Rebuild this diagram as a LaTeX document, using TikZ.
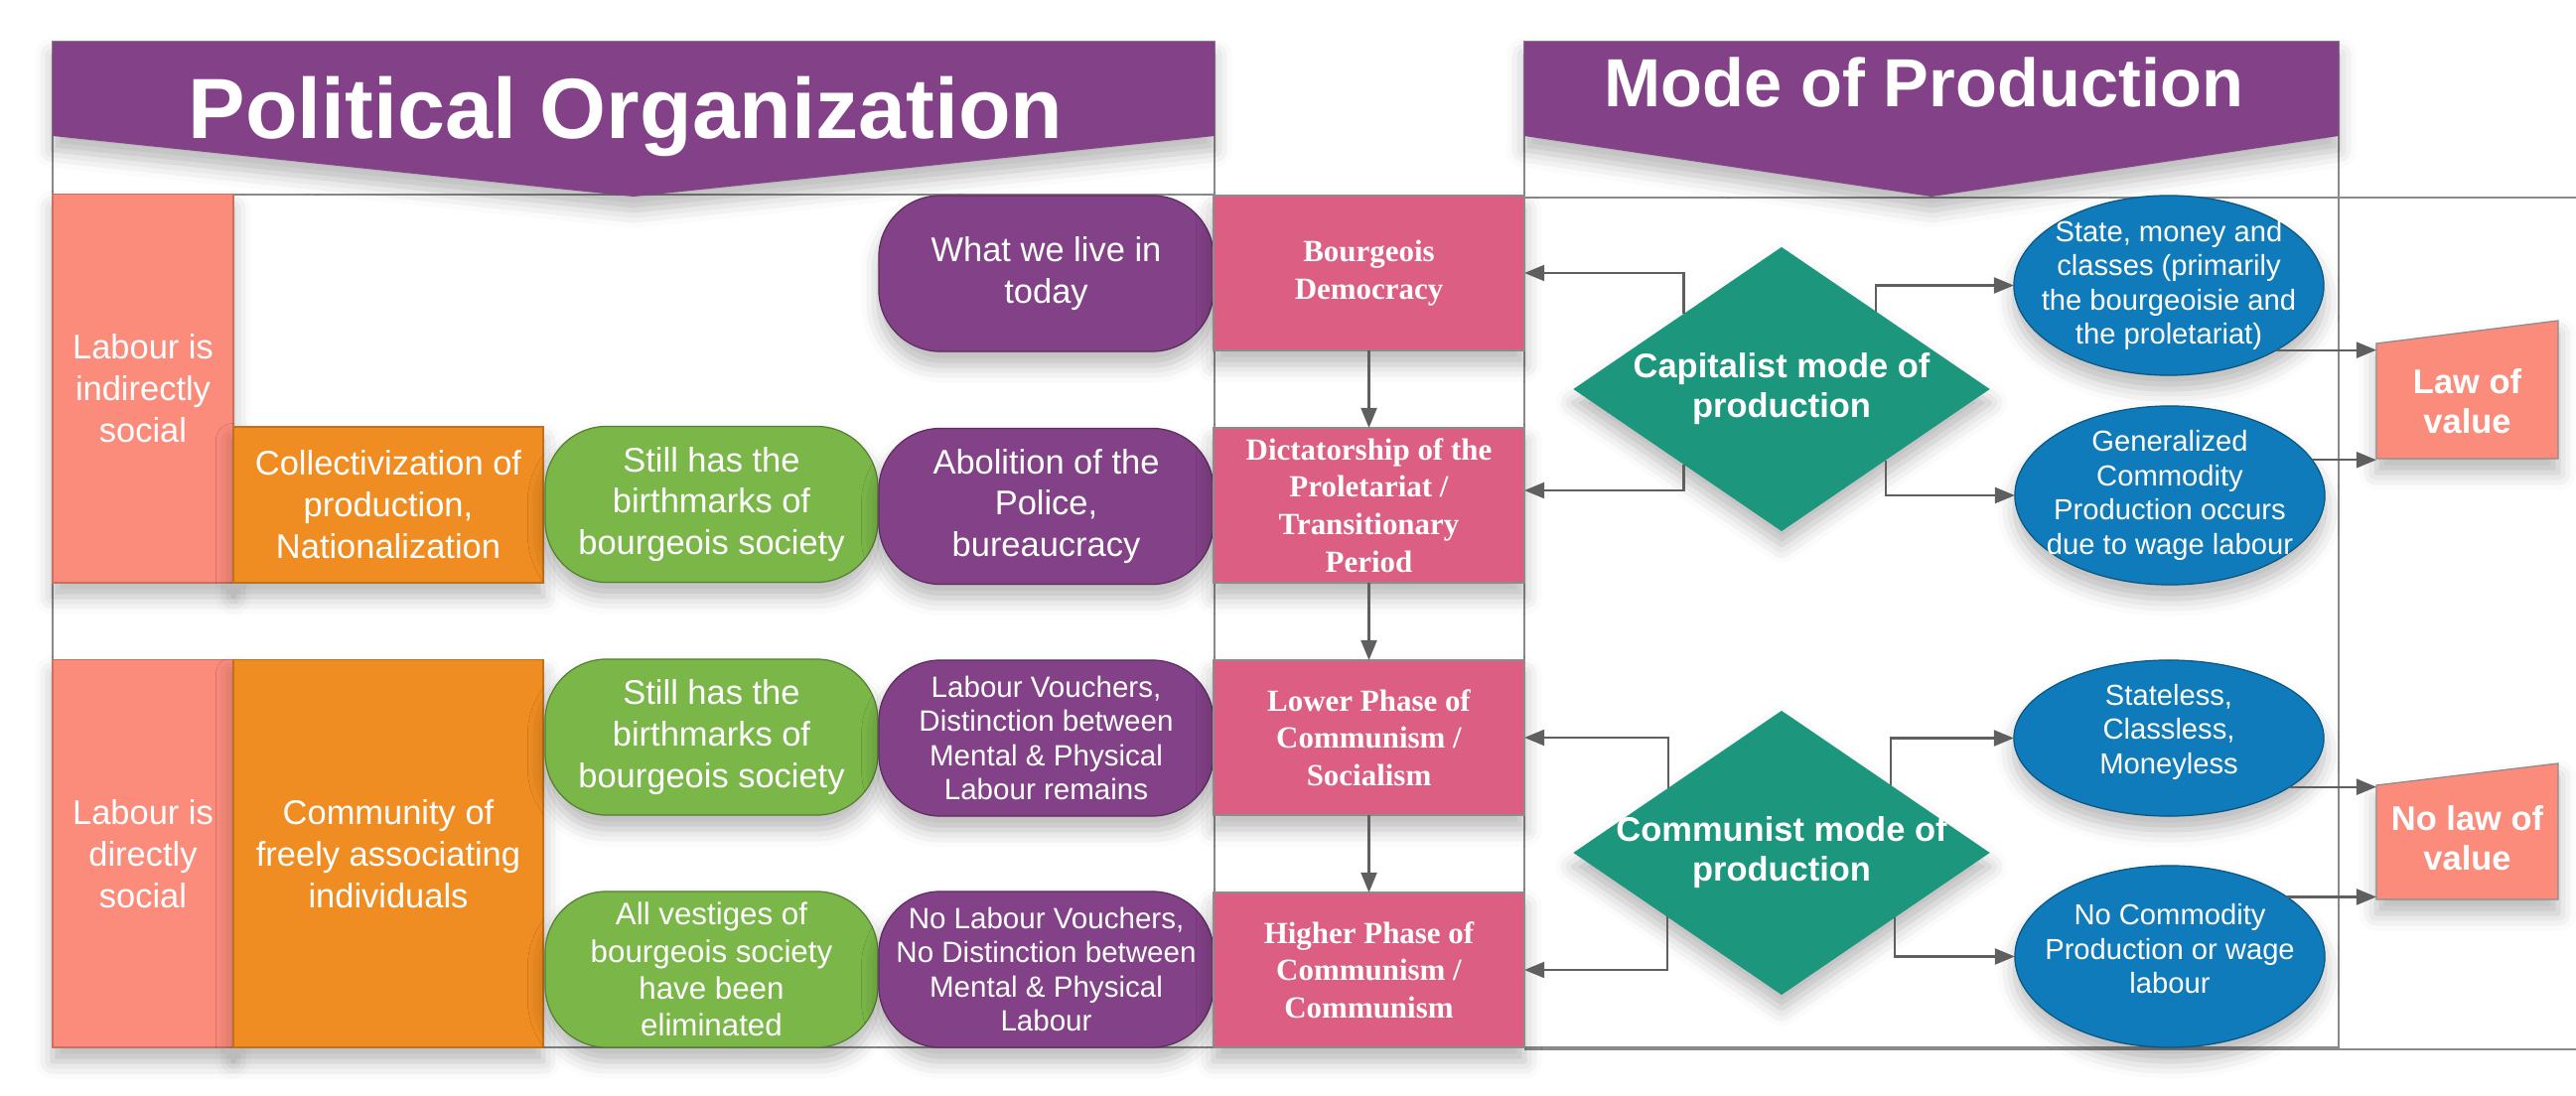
\documentclass[tikz,border=0pt]{standalone}
\usepackage{fontspec}
\setmainfont{Liberation Sans}
\newfontfamily\stageserif{Liberation Serif}
\usepackage{tikz}
\usetikzlibrary{arrows.meta, calc, shapes.geometric, shadows.blur}
\usepackage{xcolor}

\definecolor{hdrpurple}{HTML}{834187}
\definecolor{labourcoral}{HTML}{FB8C7C}
\definecolor{prodorange}{HTML}{EF8D22}
\definecolor{markgreen}{HTML}{7AB648}
\definecolor{stagepink}{HTML}{DC5E82}
\definecolor{modeteal}{HTML}{1C967C}
\definecolor{relblue}{HTML}{0F7BBA}
\definecolor{linkgray}{HTML}{5F5F5F}
\definecolor{framegray}{HTML}{8A8A8A}

\begin{document}
\begin{tikzpicture}[
    x=0.01cm,y=-0.01cm,
    >={Triangle[length=0.2cm,width=0.16cm]},
    font=\fontsize{9.8}{11.9}\selectfont,
    laneframe/.style={draw=framegray,line width=0.55pt},
    softshadow/.style={blur shadow={shadow xshift=0pt,shadow yshift=-4pt,shadow blur radius=5pt,shadow opacity=28}},
    banner/.style={fill=hdrpurple,softshadow},
    headtext/.style={text=white,inner sep=0pt,font=\bfseries\fontsize{#1}{#1}\selectfont},
    cell/.style={rectangle,inner sep=0pt,outer sep=0pt,align=center,text=white,line width=0.35pt,softshadow},
    labour/.style={cell,fill=labourcoral,draw=labourcoral!80!black,minimum width=1.82cm},
    production/.style={cell,fill=prodorange,draw=prodorange!80!black,minimum width=3.12cm},
    birthmark/.style={cell,fill=markgreen,draw=markgreen!70!black,rounded corners=0.62cm,minimum width=3.35cm,minimum height=1.57cm},
    policy/.style={cell,fill=hdrpurple,draw=hdrpurple!70!black,rounded corners=0.62cm,minimum width=3.37cm,minimum height=1.57cm},
    stage/.style={cell,fill=stagepink,draw=black!45,minimum width=3.13cm,minimum height=1.56cm,
        font=\stageserif\bfseries\fontsize{8.8}{10.7}\selectfont},
    modeshape/.style={diamond,fill=modeteal,inner sep=0pt,outer sep=0pt,minimum width=4.19cm,minimum height=2.86cm,softshadow},
    relation/.style={ellipse,fill=relblue,draw=relblue!70!black,line width=0.35pt,inner sep=0pt,outer sep=0pt,minimum width=3.12cm,softshadow},
    boldtext/.style={text=white,align=center,inner sep=0pt,font=\bfseries\fontsize{9.8}{11.4}\selectfont},
    reltext/.style={text=white,align=center,inner sep=0pt,font=\fontsize{8.3}{9.8}\selectfont},
    smalltext/.style={font=\fontsize{8.4}{9.8}\selectfont},
    valuebox/.style={rectangle,inner sep=0pt,outer sep=0pt,minimum width=1.83cm},
    link/.style={draw=linkgray,line width=0.6pt,->}
]
\useasboundingbox (0,0) rectangle (2594,1104);

% Swimlane frames.
\draw[laneframe] (53,42) rectangle (1223,1055);
\draw[laneframe] (53,196) -- (1223,196);
\draw[laneframe] (1535,42) rectangle (2355,1055);
\draw[laneframe] (1535,199) -- (2594,199);
\draw[laneframe] (1535,1057) -- (2594,1057);

% Lane headers.
\fill[banner] (53,42) -- (1223,42) -- (1223,137) -- (638,198) -- (53,137) -- cycle;
\node[headtext=24.5,anchor=base] (politicsHead) at (630,140) {Political Organization};
\fill[banner] (1535,42) -- (2355,42) -- (2355,137) -- (1945,198) -- (1535,137) -- cycle;
\node[headtext=19.5,anchor=base] (modeHead) at (1937,108) {Mode of Production};

% Political organization.
\node[labour,minimum height=3.91cm] (indirect) at (144,391.5) {Labour is\\indirectly\\social};
\node[production,minimum height=1.57cm] (collect) at (391,508.5) {Collectivization of\\production,\\Nationalization};
\node[birthmark] (marksA) at (716.5,508) {Still has the\\birthmarks of\\bourgeois society};
\node[policy] (police) at (1053.5,510) {Abolition of the\\Police,\\bureaucracy};
\node[policy] (today) at (1053.5,275.5) {What we live in\\today};

\node[labour,minimum height=3.9cm] (direct) at (144,860) {Labour is\\directly\\social};
\node[production,minimum height=3.9cm] (community) at (391,860) {Community of\\freely associating\\individuals};
\node[birthmark] (marksB) at (716.5,742.5) {Still has the\\birthmarks of\\bourgeois society};
\node[policy,smalltext] (vouchers) at (1053.5,743.5) {Labour Vouchers,\\Distinction between\\Mental \& Physical\\Labour remains};
\node[birthmark,font=\fontsize{8.9}{10.6}\selectfont] (vestiges) at (716.5,976.5) {All vestiges of\\bourgeois society\\have been\\eliminated};
\node[policy,smalltext] (novouchers) at (1053.5,976.5) {No Labour Vouchers,\\No Distinction between\\Mental \& Physical\\Labour};

% Stages between the two lanes.
\node[stage] (bourgeois) at (1378.5,275) {Bourgeois\\Democracy};
\node[stage] (dictatorship) at (1378.5,509) {Dictatorship of the\\Proletariat /\\Transitionary\\Period};
\node[stage] (lower) at (1378.5,743) {Lower Phase of\\Communism /\\Socialism};
\node[stage] (higher) at (1378.5,977) {Higher Phase of\\Communism /\\Communism};

% Modes of production and what goes with them.
\node[modeshape] (capitalist) at (1794,392) {};
\node[boldtext] (capitalistTxt) at (capitalist) {Capitalist mode of\\production};
\node[modeshape] (communist) at (1794,859) {};
\node[boldtext] (communistTxt) at (communist) {Communist mode of\\production};

\node[relation,minimum height=1.81cm] (classes) at (2184,287.5) {};
\node[reltext] (classesTxt) at (classes) {State, money and\\classes (primarily\\the bourgeoisie and\\the proletariat)};
\node[relation,minimum height=1.8cm] (commodity) at (2185,499) {};
\node[reltext] (commodityTxt) at (commodity) {Generalized\\Commodity\\Production occurs\\due to wage labour};
\node[relation,minimum height=1.57cm] (stateless) at (2184,743.5) {};
\node[reltext] (statelessTxt) at (2184,737) {Stateless,\\Classless,\\Moneyless};
\node[relation,minimum height=1.83cm] (nocommodity) at (2185,963.5) {};
\node[reltext] (nocommodityTxt) at (2185,956) {No Commodity\\Production or wage\\labour};

% Law of value boxes (slanted top edge).
\node[valuebox,minimum height=1.16cm] (lawvalue) at (2484.5,404) {};
\fill[labourcoral,draw=black!45,line width=0.35pt,softshadow] (lawvalue.south west) -- (lawvalue.north west)
    -- ($(lawvalue.north east)+(0,-23)$) -- (lawvalue.south east) -- cycle;
\node[boldtext] (lawvalueTxt) at (lawvalue) {Law of\\value};
\node[valuebox,minimum height=1.15cm] (novalue) at (2484.5,848.5) {};
\fill[labourcoral,draw=black!45,line width=0.35pt,softshadow] (novalue.south west) -- (novalue.north west)
    -- ($(novalue.north east)+(0,-22)$) -- (novalue.south east) -- cycle;
\node[boldtext] (novalueTxt) at (2484.5,844) {No law of\\value};

% Succession of stages.
\draw[link] (bourgeois) -- (dictatorship);
\draw[link] (dictatorship) -- (lower);
\draw[link] (lower) -- (higher);

% Modes of production point to stages and relations.
\draw[link] ($(capitalist.west)!0.53!(capitalist.north)$) |- (bourgeois.east);
\draw[link] ($(capitalist.west)!0.53!(capitalist.south)$) |- ($(dictatorship.east)+(0,-15)$);
\draw[link] ($(capitalist.east)!0.545!(capitalist.north)$) |- (classes.west);
\draw[link] ($(capitalist.east)!0.5!(capitalist.south)$) |- (commodity.west);
\draw[link] ($(communist.west)!0.457!(communist.north)$) |- (lower.east);
\draw[link] ($(communist.west)!0.45!(communist.south)$) |- (higher.east);
\draw[link] ($(communist.east)!0.475!(communist.north)$) |- (stateless.west);
\draw[link] ($(communist.east)!0.455!(communist.south)$) |- (nocommodity.west);

% Relations lead to the law of value.
\draw[link] (classes.-31) -- (classes.-31 -| lawvalue.west);
\draw[link] (commodity.14.5) -- (commodity.14.5 -| lawvalue.west);
\draw[link] (stateless.-22) -- (stateless.-22 -| novalue.west);
\draw[link] (nocommodity.27) -- (nocommodity.27 -| novalue.west);
\end{tikzpicture}
\end{document}
